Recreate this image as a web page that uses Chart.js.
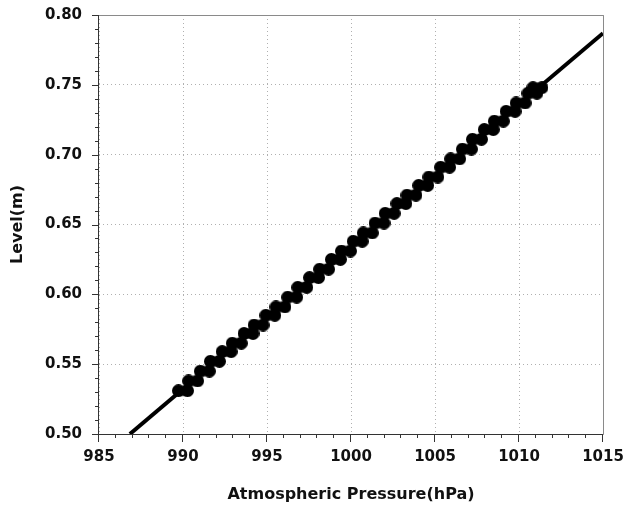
<!DOCTYPE html>
<html>
<head>
<meta charset="utf-8">
<script src="https://cdn.jsdelivr.net/npm/chart.js@4"></script>
<style>
  html, body { margin: 0; padding: 0; background: #fff; }
  #wrap { width: 632px; height: 506px; }
</style>
</head>
<body>
<div id="wrap"><canvas id="chart"></canvas></div>
<script>
// observed points (pressure hPa, level m)
const pressure = [990.0, 990.6, 991.3, 991.9, 992.6, 993.2, 993.9, 994.5, 995.2, 995.8,
  996.5, 997.1, 997.8, 998.4, 999.1, 999.7, 1000.4, 1001.0, 1001.7, 1002.3,
  1003.0, 1003.6, 1004.3, 1004.9, 1005.6, 1006.2, 1006.9, 1007.5, 1008.2, 1008.8,
  1009.5, 1010.1, 1010.8, 1011.1];
const level = [0.531, 0.538, 0.545, 0.552, 0.559, 0.565, 0.572, 0.578, 0.585, 0.591,
  0.598, 0.605, 0.612, 0.618, 0.625, 0.631, 0.638, 0.644, 0.651, 0.658,
  0.665, 0.671, 0.678, 0.684, 0.691, 0.697, 0.704, 0.711, 0.718, 0.724,
  0.731, 0.737, 0.744, 0.748];

// fitted line end points
const fitPressure = [986.84, 1015];
const fitLevel = [0.500, 0.787];

const xMin = 985, xMax = 1015, xStep = 5, xMinor = 1;
const yMin = 0.50, yMax = 0.80, yStep = 0.05, yMinor = 0.01;

// bead shaped marker
const bead = document.createElement("canvas");
bead.width = 22;
bead.height = 13;
const bctx = bead.getContext("2d");
bctx.fillStyle = "#000";
bctx.beginPath();
bctx.arc(6.5, 6.5, 6.5, 0, Math.PI * 2);
bctx.arc(15.5, 6.5, 6.5, 0, Math.PI * 2);
bctx.fill();
bctx.fillRect(6.5, 1.5, 9, 10);

const framePlugin = {
  id: "frame",
  afterDraw(chart) {
    const { ctx, chartArea: a, scales } = chart;
    ctx.save();
    ctx.lineWidth = 1;
    // top + right in gray
    ctx.strokeStyle = "#8a8a8a";
    ctx.beginPath();
    ctx.moveTo(a.left, a.top + 0.5);
    ctx.lineTo(a.right + 0.5, a.top + 0.5);
    ctx.lineTo(a.right + 0.5, a.bottom);
    ctx.stroke();
    // left + bottom
    ctx.strokeStyle = "#333";
    ctx.beginPath();
    ctx.moveTo(a.left - 0.5, a.top);
    ctx.lineTo(a.left - 0.5, a.bottom + 0.5);
    ctx.lineTo(a.right + 0.5, a.bottom + 0.5);
    ctx.stroke();
    // ticks
    ctx.beginPath();
    for (let v = xMin; v <= xMax + 1e-6; v += xMinor) {
      const px = Math.round(scales.x.getPixelForValue(v)) - 0.5;
      const major = Math.abs((v - xMin) % xStep) < 1e-6;
      ctx.moveTo(px, a.bottom);
      ctx.lineTo(px, a.bottom + (major ? 8 : 4));
    }
    for (let i = 0; i <= Math.round((yMax - yMin) / yMinor); i++) {
      const v = yMin + i * yMinor;
      const py = Math.round(scales.y.getPixelForValue(v)) + 0.5;
      const major = i % 5 === 0;
      ctx.moveTo(a.left, py);
      ctx.lineTo(a.left - (major ? 7 : 4), py);
    }
    ctx.stroke();
    ctx.restore();
  }
};

const font = { family: "'DejaVu Sans', sans-serif", weight: "bold" };

new Chart(document.getElementById("chart"), {
  type: "scatter",
  data: {
    datasets: [
      {
        label: "fit",
        data: fitPressure.map((p, i) => ({ x: p, y: fitLevel[i] })),
        showLine: true,
        borderColor: "#000",
        borderWidth: 4,
        pointRadius: 0,
        order: 2,
      },
      {
        label: "observed",
        data: pressure.map((p, i) => ({ x: p, y: level[i] })),
        pointStyle: bead,
        pointRadius: 6,
        backgroundColor: "#000",
        borderColor: "#000",
        order: 1,
      },
    ],
  },
  plugins: [framePlugin],
  options: {
    responsive: true,
    maintainAspectRatio: false,
    animation: false,
    events: [],
    layout: { padding: { top: 15, right: 29, left: 0, bottom: 0 } },
    plugins: { legend: { display: false }, tooltip: { enabled: false } },
    scales: {
      x: {
        type: "linear",
        min: xMin,
        max: xMax,
        afterFit: (s) => { s.height = 72; s.paddingLeft = 0; s.paddingRight = 0; },
        ticks: {
          stepSize: xStep,
          padding: 14,
          color: "#111",
          maxRotation: 0,
          font: { ...font, size: 15 },
          callback: (v) => String(v),
        },
        grid: { color: "#b0b0b0", lineWidth: 1, drawTicks: false },
        border: { display: false, dash: [1, 3] },
        title: {
          display: true,
          text: "Atmospheric Pressure(hPa)",
          color: "#111",
          font: { ...font, size: 16 },
          padding: { top: 0, bottom: 2 },
        },
      },
      y: {
        type: "linear",
        min: yMin,
        max: yMax,
        afterFit: (s) => { s.width = 99; s.paddingTop = 0; s.paddingBottom = 0; },
        ticks: {
          stepSize: yStep,
          padding: 17,
          color: "#111",
          font: { ...font, size: 15 },
          callback: (v) => Number(v).toFixed(2),
        },
        grid: { color: "#b0b0b0", lineWidth: 1, drawTicks: false },
        border: { display: false, dash: [1, 3] },
        title: {
          display: true,
          text: "Level(m)",
          color: "#111",
          font: { ...font, size: 16 },
          padding: { top: 8, bottom: 0 },
        },
      },
    },
  },
});
</script>
</body>
</html>
